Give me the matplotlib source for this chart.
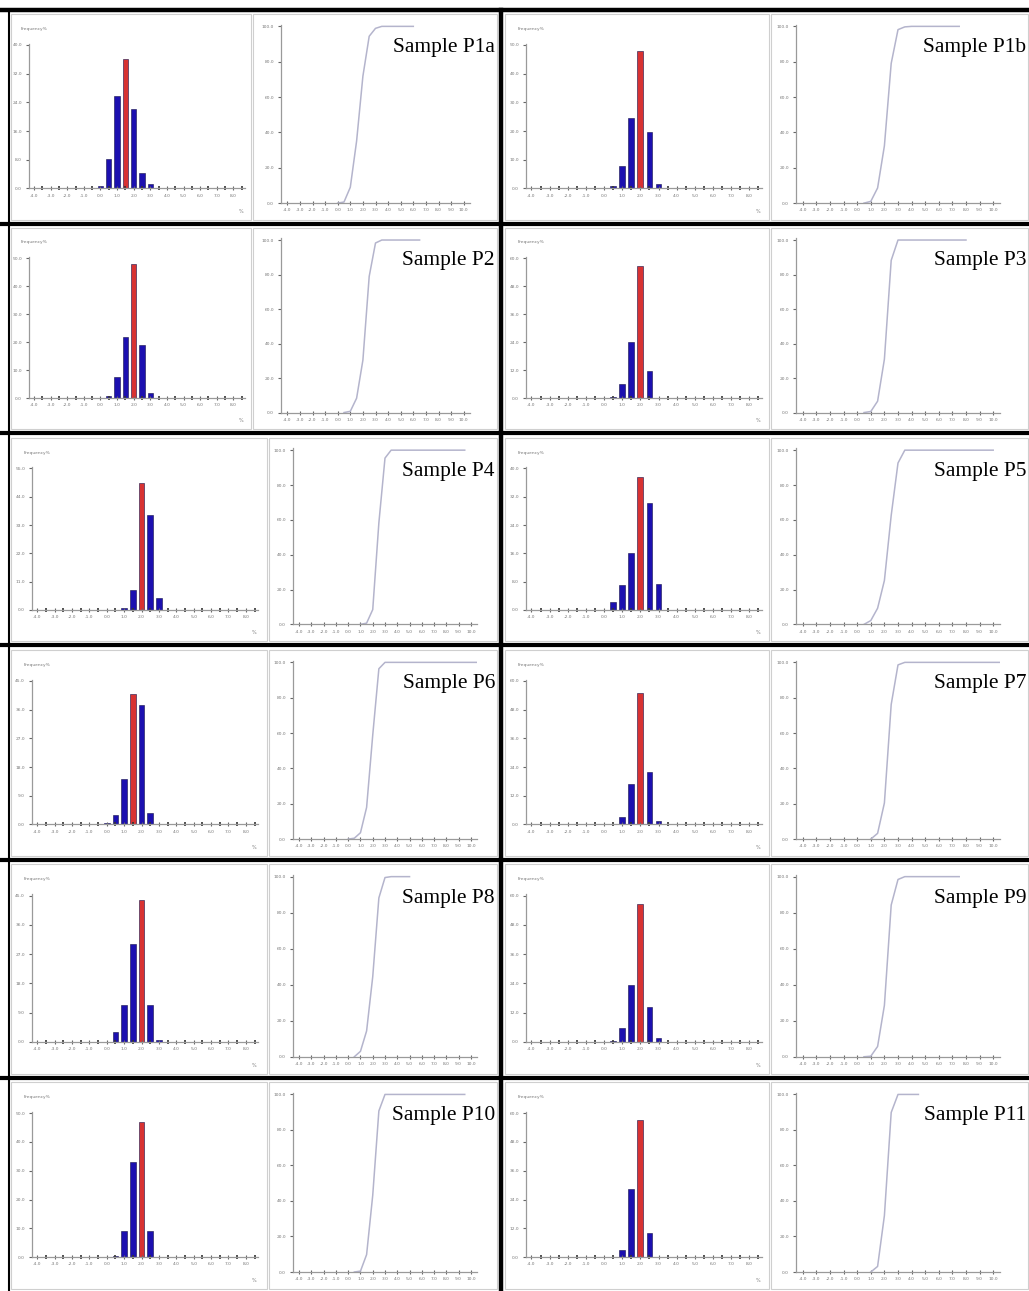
import numpy as np
import matplotlib.pyplot as plt
from matplotlib.patches import Rectangle

W, H = 1029, 1291

samples = ['P1a', 'P1b', 'P2', 'P3', 'P4', 'P5',
           'P6', 'P7', 'P8', 'P9', 'P10', 'P11']

# centre of the first non-empty class for each sample
first_class = [0.0, 0.5, 0.5, 0.5, 1.0, 0.5, 0.0, 1.0, 0.5, 0.5, 0.5, 1.0]

# frequencies (%) of the non-empty classes, 0.5 wide
freqs = [
    [0.6, 8.2, 25.7, 36.1, 22.2, 4.4, 1.1],
    [1.0, 7.8, 24.5, 47.9, 19.6, 1.6, 0.3],
    [0.7, 7.5, 21.8, 47.9, 19.1, 1.7],
    [0.6, 5.9, 24.0, 56.5, 11.6],
    [0.7, 7.7, 49.3, 36.8, 4.5],
    [2.2, 7.1, 16.0, 37.5, 30.2, 7.4],
    [0.5, 3.1, 14.3, 40.9, 37.5, 3.6],
    [3.2, 16.9, 54.8, 22.0, 1.4],
    [3.0, 11.3, 30.1, 43.7, 11.3, 0.5],
    [0.3, 5.5, 23.2, 56.6, 14.4, 1.6],
    [0.5, 9.2, 33.1, 47.0, 9.2],
    [3.1, 28.2, 57.2, 10.0],
]

# top of the frequency axis for each sample
y_top = [40, 50, 50, 60, 55, 40, 45, 60, 45, 60, 50, 60]

# where the cumulative curve stops on its x axis
curve_end = [6.0, 7.5, 6.5, 8.0, 9.5, 10.0, 10.5, 10.5, 5.0, 7.5, 9.5, 4.5]

hist_ticks = np.arange(-4, 9, 1.0)
cum_ticks = np.arange(-4, 11, 1.0)
cum_yticks = np.arange(0, 101, 20)

# row limits in pixels
row_top = [12, 226, 436, 648, 862, 1080]
row_bot = [222, 431, 643, 858, 1076, 1291]


def fx(x):
    return x / W


def fy(y):
    return 1 - y / H


def add_ax(x0, x1, y0, y1):
    return fig.add_axes([fx(x0), fy(y1), fx(x1) - fx(x0), (y1 - y0) / H])


def style(ax):
    for s in ['top', 'right']:
        ax.spines[s].set_visible(False)
    for s in ['left', 'bottom']:
        ax.spines[s].set_color('#9a9a9a')
        ax.spines[s].set_linewidth(0.9)
    ax.set_facecolor('none')
    ax.tick_params(axis='both', which='major', labelsize=3.2, labelcolor='#777777',
                   color='#666666', length=2.5, width=0.8, pad=2.5)
    ax.tick_params(axis='x', which='both', direction='inout')
    ax.tick_params(axis='x', which='minor', color='#333333', length=2.5, width=1.2)


fig = plt.figure(figsize=(W / 100, H / 100), dpi=100)
frame = fig.add_axes([0, 0, 1, 1])
frame.set_xlim(0, W)
frame.set_ylim(H, 0)
frame.axis('off')

for i, name in enumerate(samples):
    r, c = i // 2, i % 2
    top, bot = row_top[r], row_bot[r]
    h = bot - top
    if c == 0 and r < 2:
        hb, cb, ha, ca = (10, 252), (252, 498), (29, 245), (281, 470)
    elif c == 0:
        hb, cb, ha, ca = (10, 268), (268, 498), (32, 258), (293, 477)
    else:
        hb, cb, ha, ca = (504, 770), (770, 1029), (526, 762), (796, 1000)

    # light grey chart boxes
    for bx in (hb, cb):
        frame.add_patch(Rectangle((bx[0] + 1, top + 2), bx[1] - bx[0] - 2, h - 4,
                                  fill=False, edgecolor='#cfcfcf', lw=0.8))

    vals = np.array(freqs[i])
    centres = first_class[i] + 0.5 * np.arange(len(vals))
    colors = ['#1c10b0'] * len(vals)
    colors[int(np.argmax(vals))] = '#d83232'

    # frequency histogram
    ax = add_ax(ha[0], ha[1], top + 0.15 * h, top + 0.84 * h)
    style(ax)
    ax.bar(centres, vals, width=0.32, color=colors, edgecolor='#14104a', linewidth=0.4)
    ax.set_xlim(-4.3, 8.7)
    ax.set_ylim(0, y_top[i] * 1.01)
    ax.set_xticks(hist_ticks)
    ax.set_xticks(np.arange(-4, 8.6, 0.5), minor=True)
    ax.set_xticklabels([f'{t:.1f}' for t in hist_ticks])
    yt = np.linspace(0, y_top[i], 6)
    ax.set_yticks(yt)
    ax.set_yticklabels([f'{t:.1f}' for t in yt])
    fig.text(fx(ha[0] - 8), fy(top + 0.08 * h), 'Frequency%', fontsize=3.2,
             color='#777777', ha='left', va='center')
    fig.text(fx(ha[1] - 4), fy(top + 0.95 * h), '%', fontsize=3.5,
             color='#777777', ha='center', va='center')

    # cumulative curve
    edges = np.concatenate([[first_class[i]], centres + 0.5])
    cum = np.concatenate([[0], np.cumsum(vals)]) / vals.sum() * 100
    if curve_end[i] > edges[-1]:
        edges = np.append(edges, curve_end[i])
        cum = np.append(cum, 100)
    ax2 = add_ax(ca[0], ca[1], top + 0.06 * h, top + 0.91 * h)
    style(ax2)
    ax2.plot(edges, cum, color='#b4b4cc', lw=1.1)
    ax2.set_xlim(-4.5, 10.5)
    ax2.set_ylim(0, 101)
    ax2.set_xticks(cum_ticks)
    ax2.set_xticklabels([f'{t:.1f}' for t in cum_ticks])
    ax2.set_yticks(cum_yticks)
    ax2.set_yticklabels([f'{t:.1f}' for t in cum_yticks])

    fig.text(fx(cb[1] - 3), fy(top + 0.17 * h), 'Sample ' + name,
             family='Liberation Serif', fontsize=15.5, ha='right', va='center',
             bbox=dict(facecolor='white', edgecolor='none', pad=1.0))

# thick black separators
frame.plot([0, W], [10, 10], color='black', lw=3.2)
for y in row_bot[:-1]:
    frame.plot([0, W], [y + 2, y + 2], color='black', lw=3.0)
frame.plot([501, 501], [10, H], color='black', lw=3.2)
frame.plot([9, 9], [10, H], color='black', lw=1.5)

fig.savefig('out.png', dpi=100)
